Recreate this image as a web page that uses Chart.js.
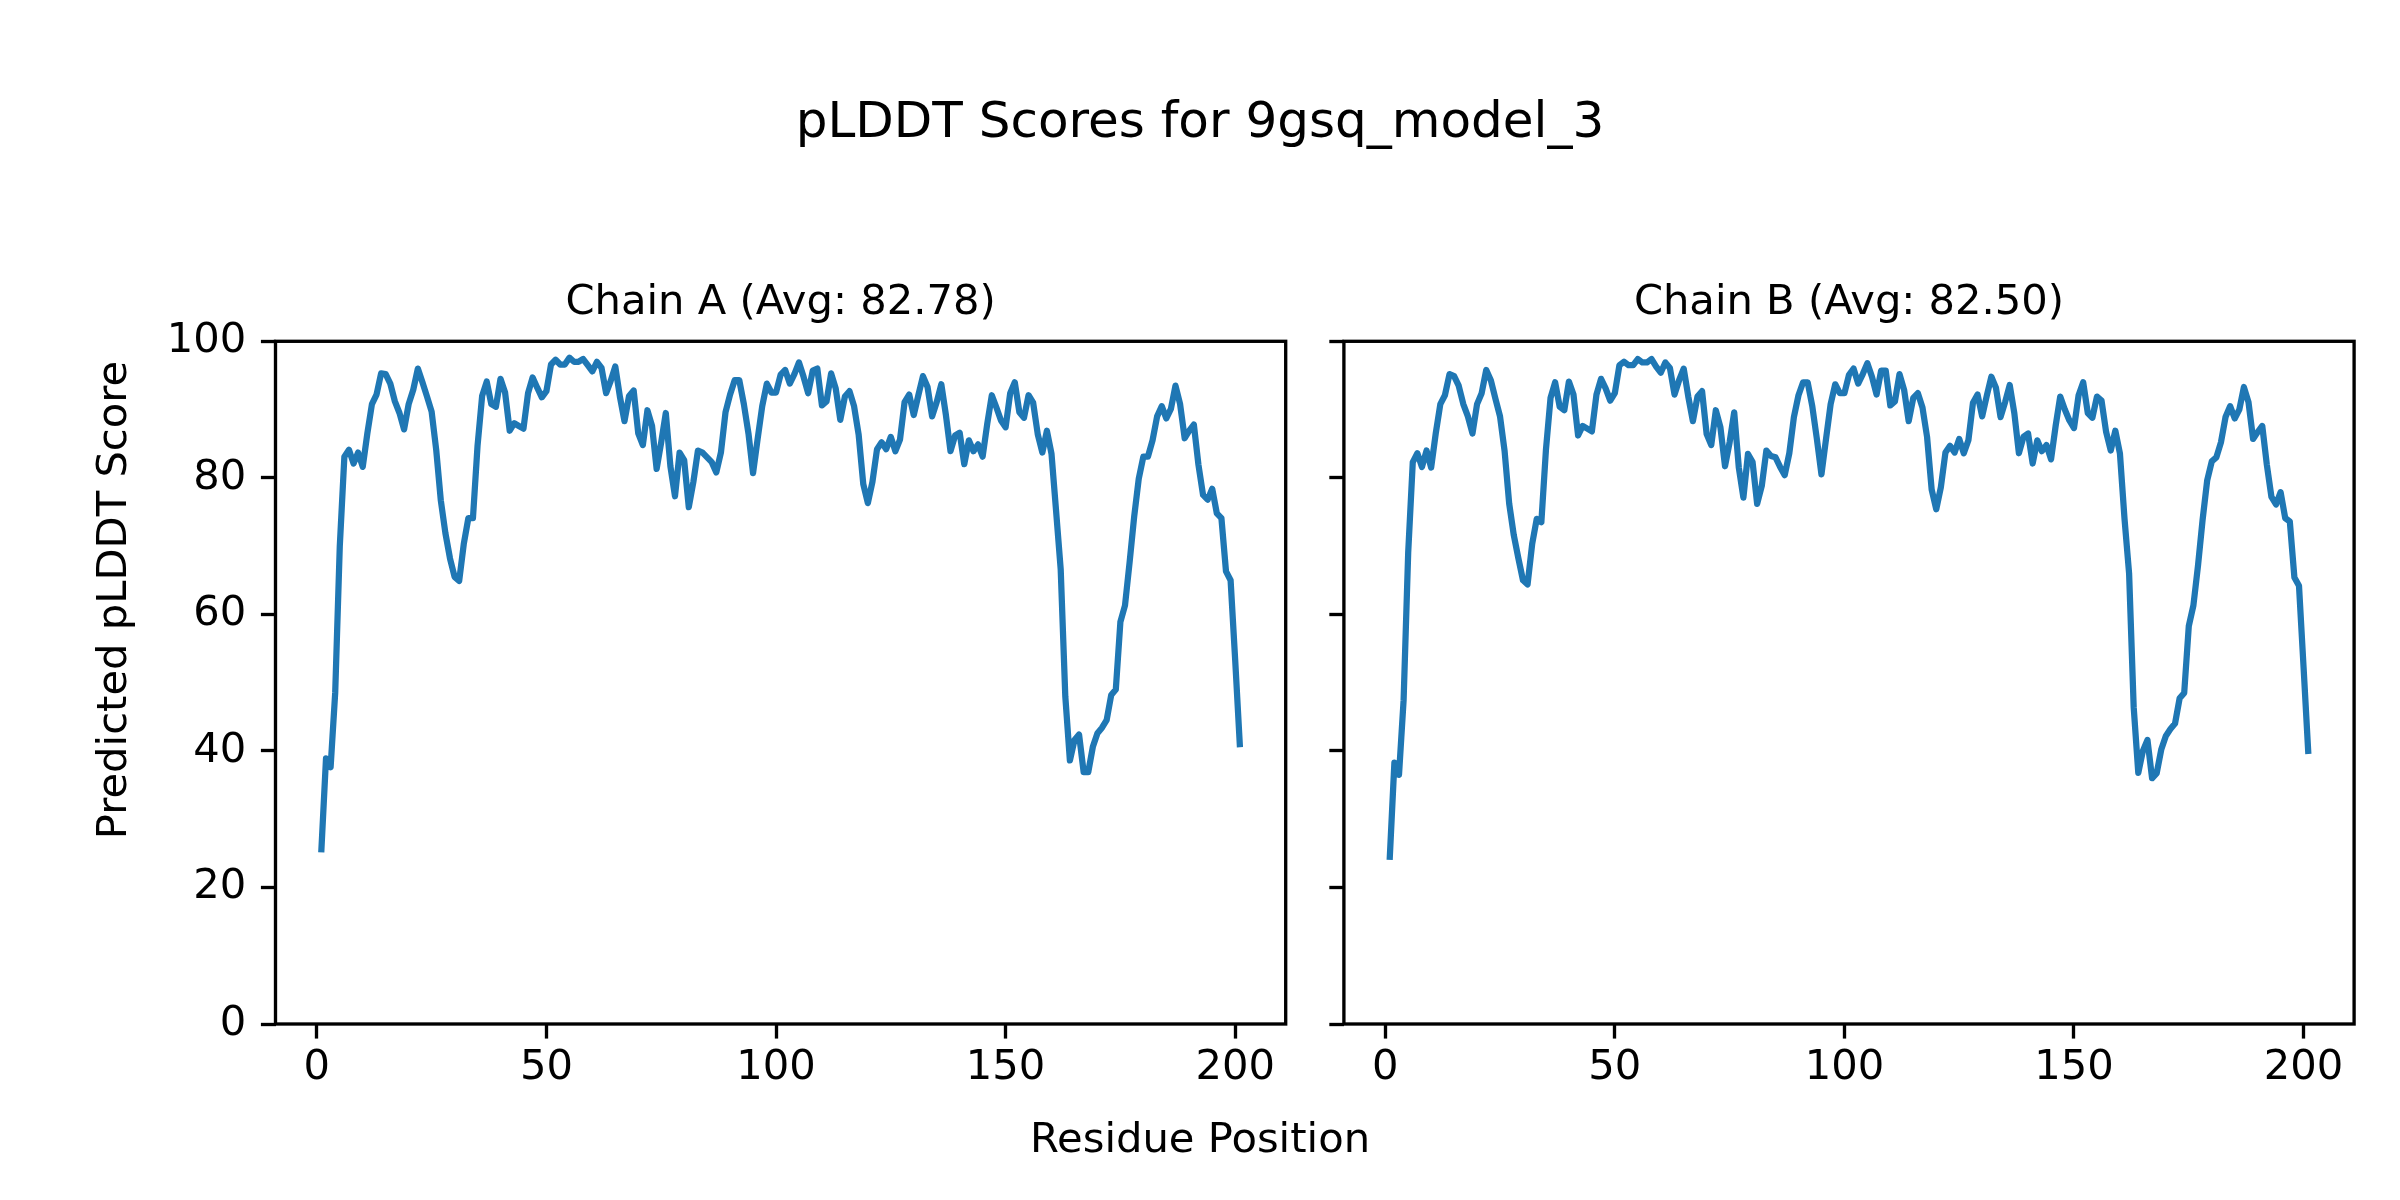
<!DOCTYPE html>
<html>
<head>
<meta charset="utf-8">
<script src="https://cdn.jsdelivr.net/npm/chart.js@4.4.1/dist/chart.umd.min.js"></script>
<style>
    body { margin: 0; background: #fff; }
    #page { position: relative; width: 2400px; height: 1200px; overflow: hidden; background: #fff; font-family: "DejaVu Sans", sans-serif; color: #000; }
    #page canvas { position: absolute; left: 0; top: 0; }
    .label { position: absolute; left: 0; width: 2400px; text-align: center; white-space: nowrap; }
    #suptitle { top: 90px; font-size: 50px; line-height: 60px; }
    #xlabel { top: 1113px; font-size: 41.7px; line-height: 50px; }
    #ylabel { position: absolute; left: -488px; top: 575px; width: 1200px; height: 50px; text-align: center; white-space: nowrap;
              font-size: 41.7px; line-height: 50px; transform: rotate(-90deg); }
</style>
</head>
<body>
<div id="page">
    <canvas id="chainA" width="2400" height="1200"></canvas>
    <canvas id="chainB" width="2400" height="1200"></canvas>
    <div class="label" id="suptitle">pLDDT Scores for 9gsq_model_3</div>
    <div class="label" id="xlabel">Residue Position</div>
    <div id="ylabel">Predicted pLDDT Score</div>
</div>
<script>
// valeurs (résidus 1..201)
const chainAScores = [
    25.6, 38.9, 37.6, 48.5, 70.0, 83.1, 84.1, 82.1, 83.7, 81.6,
    86.5, 90.8, 92.2, 95.3, 95.2, 93.8, 91.2, 89.5, 87.1, 90.8,
    92.9, 96.0, 94.0, 91.9, 89.7, 84.1, 76.7, 71.9, 68.2, 65.5,
    64.9, 70.3, 74.1, 74.1, 84.7, 92.0, 94.1, 90.8, 90.4, 94.5,
    92.5, 86.9, 88.0, 87.6, 87.2, 92.4, 94.7, 93.2, 91.8, 92.7,
    96.6, 97.3, 96.6, 96.6, 97.6, 97.0, 97.0, 97.4, 96.5, 95.6,
    97.0, 96.1, 92.4, 94.2, 96.3, 91.9, 88.3, 92.0, 92.8, 86.5,
    84.8, 89.9, 87.6, 81.3, 85.2, 89.5, 81.7, 77.3, 83.7, 82.6,
    75.7, 79.4, 84.0, 83.7, 83.0, 82.3, 80.8, 83.7, 89.6, 92.2,
    94.3, 94.3, 90.8, 86.5, 80.7, 85.7, 90.5, 93.8, 92.5, 92.5,
    95.1, 95.8, 93.8, 95.2, 96.9, 94.8, 92.4, 95.7, 96.0, 90.6,
    91.2, 95.3, 93.1, 88.5, 91.9, 92.7, 90.5, 86.3, 79.1, 76.3,
    79.4, 84.2, 85.2, 84.2, 86.0, 83.9, 85.6, 91.1, 92.2, 89.2,
    92.1, 94.9, 93.3, 89.0, 91.1, 93.7, 89.2, 83.9, 86.2, 86.6,
    82.0, 85.5, 83.9, 84.9, 83.1, 87.9, 92.1, 90.3, 88.4, 87.4,
    92.4, 94.0, 89.6, 88.8, 92.1, 91.0, 86.4, 83.7, 86.9, 83.5,
    75.1, 66.6, 48.0, 38.6, 41.6, 42.4, 36.9, 36.9, 40.6, 42.6,
    43.4, 44.5, 48.2, 49.0, 58.9, 61.3, 67.6, 74.3, 79.9, 83.1,
    83.1, 85.5, 89.0, 90.5, 88.7, 90.1, 93.5, 90.8, 85.8, 86.9,
    87.8, 81.9, 77.5, 76.8, 78.4, 74.8, 74.1, 66.3, 65.0, 53.3,
    41.0
];
const chainBScores = [
    24.5, 38.3, 36.5, 47.4, 69.0, 82.3, 83.6, 81.6, 84.0, 81.5,
    86.5, 90.8, 92.1, 95.2, 94.9, 93.5, 90.8, 89.0, 86.5, 90.8,
    92.4, 95.8, 94.3, 91.6, 89.0, 83.9, 76.2, 71.6, 68.2, 65.0,
    64.4, 70.3, 74.0, 73.5, 84.1, 91.7, 94.0, 90.4, 89.9, 94.1,
    92.2, 86.2, 87.6, 87.2, 86.8, 92.2, 94.5, 93.1, 91.3, 92.4,
    96.5, 97.0, 96.5, 96.5, 97.4, 96.9, 96.9, 97.4, 96.3, 95.4,
    96.9, 96.1, 92.2, 94.3, 96.0, 91.9, 88.3, 91.9, 92.7, 86.4,
    84.8, 89.9, 87.4, 81.7, 85.2, 89.6, 81.5, 77.1, 83.5, 82.3,
    76.2, 78.8, 84.0, 83.2, 83.0, 81.6, 80.4, 83.6, 88.9, 92.1,
    94.0, 94.0, 90.5, 85.7, 80.5, 85.7, 90.8, 93.7, 92.4, 92.4,
    95.1, 96.0, 93.8, 95.2, 96.8, 94.8, 92.2, 95.7, 95.7, 90.6,
    91.2, 95.2, 92.9, 88.3, 91.7, 92.4, 90.3, 86.0, 78.3, 75.4,
    78.6, 83.7, 84.7, 83.7, 85.7, 83.6, 85.5, 91.0, 92.2, 89.0,
    92.0, 94.8, 93.2, 88.9, 91.1, 93.6, 89.5, 83.6, 86.0, 86.5,
    82.1, 85.5, 83.9, 84.8, 82.7, 87.6, 91.9, 90.0, 88.4, 87.3,
    92.1, 94.0, 89.5, 88.8, 91.9, 91.3, 86.7, 84.0, 86.9, 83.6,
    74.0, 66.0, 46.4, 36.8, 40.0, 41.6, 36.0, 36.7, 40.2, 42.2,
    43.2, 44.0, 47.7, 48.5, 58.3, 61.3, 67.1, 73.8, 79.6, 82.4,
    83.0, 85.2, 88.9, 90.5, 88.7, 90.0, 93.3, 91.1, 85.7, 86.7,
    87.6, 81.9, 77.2, 76.1, 77.9, 74.1, 73.6, 65.4, 64.2, 52.2,
    40.0
];
const residues = chainAScores.map((_, i) => i + 1);
const chainTitles = ['Chain A (Avg: 82.78)', 'Chain B (Avg: 82.50)'];
const xTickValues = [0, 50, 100, 150, 200];
const yTickValues = [0, 20, 40, 60, 80, 100];

const PX = 300 / 72; // 1 pt en pixels (figure à 300 dpi)
const police = { family: 'DejaVu Sans', size: 10 * PX, weight: 'normal', lineHeight: 1.2 };

// cadre noir autour de la zone de tracé (les 4 côtés)
const cadre = {
    id: 'cadre',
    afterDraw(chart) {
        const { ctx, chartArea: a } = chart;
        ctx.save();
        ctx.strokeStyle = '#000';
        ctx.lineWidth = 0.8 * PX;
        ctx.strokeRect(a.left, a.top, a.right - a.left, a.bottom - a.top);
        ctx.restore();
    }
};

function creerGraphique(id, scores, titre, gauche, largeurAxeY, avecLabels) {
    const ctx = document.getElementById(id).getContext('2d');
    return new Chart(ctx, {
        type: 'line',
        data: {
            datasets: [{
                data: residues.map((r, i) => ({ x: r, y: scores[i] })),
                borderColor: '#1f77b4',
                borderWidth: 1.5 * PX,
                borderJoinStyle: 'round',
                borderCapStyle: 'square',
                pointRadius: 0,
                tension: 0,
                fill: false
            }]
        },
        options: {
            responsive: false,
            animation: false,
            devicePixelRatio: 1,
            layout: { padding: { left: gauche, right: 2400 - gauche - largeurAxeY - 1010.2, top: 278, bottom: 56 } },
            plugins: {
                legend: { display: false },
                tooltip: { enabled: false },
                title: {
                    display: true,
                    text: titre,
                    fullSize: false,
                    color: '#000',
                    font: police,
                    padding: { top: 0, bottom: 13.3 }
                }
            },
            scales: {
                x: {
                    type: 'linear',
                    min: -9,
                    max: 211,
                    afterBuildTicks: s => { s.ticks = xTickValues.map(v => ({ value: v })); },
                    afterFit: s => { s.height = 120; },
                    ticks: { color: '#000', font: police, padding: 4.4, maxRotation: 0 },
                    grid: { drawOnChartArea: false, drawTicks: true, tickLength: 3.5 * PX, tickWidth: 0.8 * PX, tickColor: '#000' },
                    border: { display: false }
                },
                y: {
                    min: 0,
                    max: 100,
                    afterBuildTicks: s => { s.ticks = yTickValues.map(v => ({ value: v })); },
                    afterFit: s => { s.width = largeurAxeY; },
                    ticks: { display: avecLabels, color: '#000', font: police, padding: 3.5 * PX },
                    grid: { drawOnChartArea: false, drawTicks: true, tickLength: 3.5 * PX, tickWidth: 0.8 * PX, tickColor: '#000' },
                    border: { display: false }
                }
            }
        },
        plugins: [cadre]
    });
}

creerGraphique('chainA', chainAScores, chainTitles[0], 87, 188.5, true);
creerGraphique('chainB', chainBScores, chainTitles[1], 1323.9, 20, false);
</script>
</body>
</html>
